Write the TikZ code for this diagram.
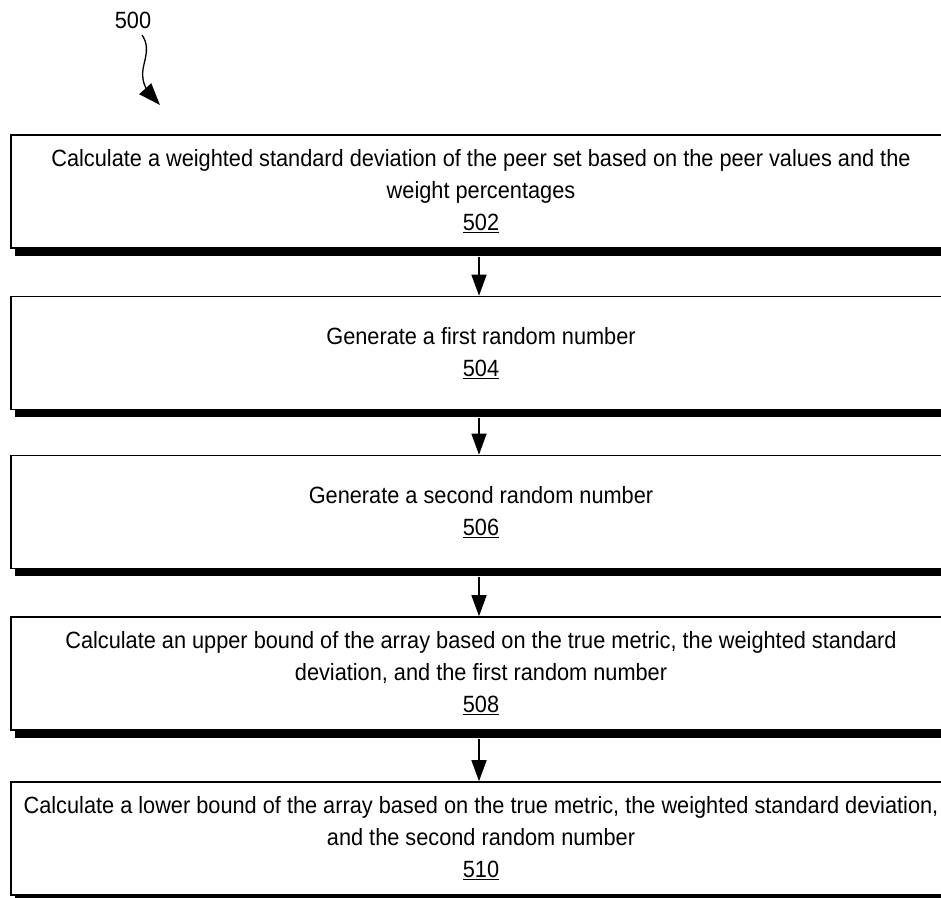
\documentclass[tikz,border=0pt]{standalone}
\usepackage{fontspec}
\setmainfont{Liberation Sans}[FakeStretch=0.925]
\usetikzlibrary{arrows.meta,shadows}
\begin{document}
\begin{tikzpicture}[x=1pt,y=1pt,
  stepbox/.style={draw=black, line width=1.6pt, fill=white,
    minimum width=940pt, minimum height=113pt, inner sep=0pt,
    align=center, font=\fontsize{23.5}{32}\selectfont,
    drop shadow={shadow xshift=4pt, shadow yshift=-8pt, fill=black, opacity=1}},
  flow/.style={-{Triangle[length=21pt,width=15pt]}, line width=1.5pt},
  reflabel/.style={font=\fontsize{23.5}{25}\selectfont, inner sep=0pt}]
\useasboundingbox (0,0) rectangle (941,897);
\clip (0,0) rectangle (941,897);

% figure reference with its wavy pointer
\node[reflabel] (lbl) at (133,877) {500};
\coordinate (wstart) at (142,862);
\coordinate (wtip) at (160,792);
\draw[-{Triangle[length=22pt,width=16pt]}, line width=1.3pt]
  (wstart) .. controls (153,846) and (140,832) .. (143,818)
  .. controls (144,810) and (150,803) .. (wtip);

% process steps
\node[stepbox] (s502) at (481,705.5) {Calculate a weighted standard deviation of the peer set based on the peer values and the\\ weight percentages\\ \underline{502}};
\node[stepbox] (s504) at (481,544) {Generate a first random number\\ \underline{504}};
\node[stepbox] (s506) at (481,385) {Generate a second random number\\ \underline{506}};
\node[stepbox] (s508) at (481,223.5) {Calculate an upper bound of the array based on the true metric, the weighted standard\\ deviation, and the first random number\\ \underline{508}};
\node[stepbox] (s510) at (481,58.5) {Calculate a lower bound of the array based on the true metric, the weighted standard deviation,\\ and the second random number\\ \underline{510}};

% connectors
\draw[flow] ([xshift=-2pt,yshift=-8pt]s502.south) -- ([xshift=-2pt]s504.north);
\draw[flow] ([xshift=-2pt,yshift=-8pt]s504.south) -- ([xshift=-2pt]s506.north);
\draw[flow] ([xshift=-2pt,yshift=-8pt]s506.south) -- ([xshift=-2pt]s508.north);
\draw[flow] ([xshift=-2pt,yshift=-8pt]s508.south) -- ([xshift=-2pt]s510.north);
\end{tikzpicture}
\end{document}
